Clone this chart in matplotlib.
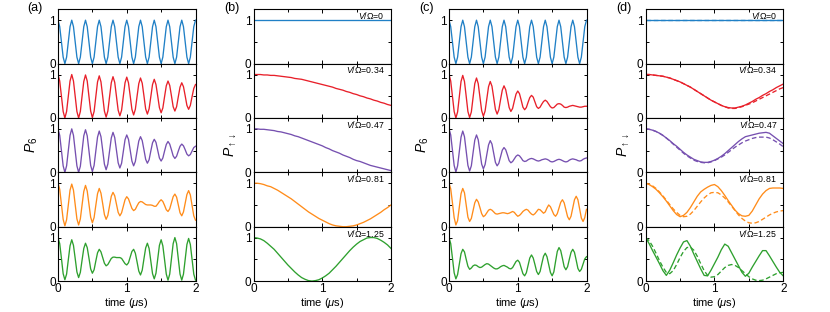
import numpy as np
import matplotlib
matplotlib.use("Agg")
import matplotlib.pyplot as plt
from matplotlib.ticker import MultipleLocator

plt.rcParams['font.family'] = ['Liberation Sans', 'DejaVu Sans']
plt.rcParams['mathtext.fontset'] = 'custom'
plt.rcParams['mathtext.rm'] = 'Liberation Sans'
plt.rcParams['mathtext.it'] = 'Liberation Sans:italic'
plt.rcParams['mathtext.sf'] = 'Liberation Sans'

# ---------------- data ----------------
time_fine = np.linspace(0, 2, 81)   # 0.025 us sampling (panels a, c)
time_mid = np.linspace(0, 2, 41)    # 0.05 us sampling (panels b, d)
time_ends = [0.0, 2.0]

ratio_labels = ['0', '0.34', '0.47', '0.81', '1.25']
panel_letters = ['(a)', '(b)', '(c)', '(d)']

blue_osc = [1.00, .85, .50, .15, .00, .15, .50, .85,
            1.00, .85, .50, .15, .00, .15, .50, .85,
            1.00, .85, .50, .15, .00, .15, .50, .85,
            1.00, .85, .50, .15, .00, .15, .50, .85,
            1.00, .85, .50, .15, .00, .15, .50, .85,
            1.00, .85, .50, .15, .00, .15, .50, .85,
            1.00, .85, .50, .15, .00, .15, .50, .85,
            1.00, .85, .50, .15, .00, .15, .50, .85,
            1.00, .85, .50, .15, .00, .15, .50, .85,
            1.00, .85, .50, .15, .00, .15, .50, .85,
            1.00]
blue_flat = [1.00, 1.00]

# panel (a)
red_a = [1.00,
         .85, .50, .15, .00, .15, .50, .85, 1.00,
         .85, .50, .15, .00, .15, .50, .84, .99,
         .85, .50, .16, .01, .15, .49, .83, .97,
         .83, .50, .16, .02, .16, .49, .81, .95,
         .82, .50, .18, .05, .18, .50, .81, .94,
         .81, .51, .20, .07, .20, .50, .79, .92,
         .80, .51, .21, .09, .21, .49, .77, .89,
         .77, .51, .24, .12, .23, .49, .74, .85,
         .75, .51, .26, .16, .26, .49, .71, .81,
         .72, .51, .29, .20, .29, .49, .68, .77]
purple_a = [1.00,
            .85, .50, .15, .00, .15, .50, .85, 1.00,
            .85, .50, .15, .00, .14, .49, .84, .98,
            .84, .50, .16, .02, .16, .49, .81, .95,
            .82, .51, .19, .06, .19, .49, .79, .92,
            .80, .51, .22, .10, .21, .48, .75, .86,
            .76, .51, .26, .15, .25, .49, .72, .82,
            .73, .52, .30, .21, .29, .49, .68, .76,
            .69, .51, .33, .26, .33, .49, .64, .71,
            .65, .52, .38, .32, .37, .49, .60, .65,
            .61, .52, .42, .38, .41, .49, .57, .60]
orange_a = [1.00,
            .86, .51, .17, .02, .16, .50, .84, .98,
            .84, .51, .18, .04, .18, .50, .81, .95,
            .82, .52, .22, .09, .21, .49, .76, .88,
            .77, .53, .28, .17, .26, .48, .70, .79,
            .71, .52, .33, .25, .32, .47, .62, .69,
            .64, .53, .42, .37, .40, .48, .55, .58,
            .57, .54, .51, .50, .50, .50, .49, .47,
            .47, .52, .58, .62, .58, .49, .39, .35,
            .41, .55, .69, .75, .68, .50, .32, .25,
            .34, .54, .74, .83, .73, .49, .25, .15]
green_a = [1.00,
           .86, .52, .17, .03, .16, .49, .81, .95,
           .82, .52, .21, .08, .20, .48, .75, .87,
           .77, .53, .28, .18, .26, .46, .65, .73,
           .67, .54, .41, .35, .38, .45, .52, .55,
           .55, .54, .54, .54, .52, .46, .40, .37,
           .42, .55, .68, .73, .64, .44, .23, .14,
           .25, .51, .76, .87, .75, .46, .17, .05,
           .18, .50, .82, .95, .81, .49, .16, .02,
           .16, .51, .86, 1.00, .86, .51, .16, .02,
           .16, .50, .84, .98, .84, .50, .16, .02]

# panel (c)
red_c = [1.00,
         .85, .50, .15, .00, .14, .49, .84, .98,
         .84, .50, .15, .01, .14, .47, .79, .92,
         .79, .48, .17, .04, .16, .44, .72, .84,
         .73, .47, .20, .09, .19, .42, .64, .74,
         .65, .45, .24, .15, .22, .39, .55, .62,
         .56, .41, .25, .19, .24, .36, .47, .52,
         .48, .37, .26, .22, .25, .32, .38, .41,
         .38, .32, .26, .23, .24, .28, .32, .33,
         .32, .29, .25, .24, .25, .27, .28, .29,
         .28, .27, .26, .25, .25, .26, .27, .27]
purple_c = [1.00,
            .86, .51, .16, .01, .15, .48, .81, .95,
            .82, .49, .16, .03, .15, .45, .74, .86,
            .75, .47, .19, .08, .18, .41, .63, .73,
            .65, .44, .23, .15, .21, .36, .51, .57,
            .52, .40, .27, .22, .25, .31, .37, .40,
            .38, .33, .27, .25, .26, .29, .31, .32,
            .31, .29, .27, .26, .27, .29, .30, .31,
            .30, .28, .25, .24, .25, .27, .29, .30,
            .29, .27, .25, .24, .25, .28, .30, .31,
            .30, .29, .27, .26, .27, .30, .32, .33]
orange_c = [1.00,
            .87, .55, .21, .04, .14, .45, .76, .88,
            .78, .50, .22, .12, .19, .37, .55, .63,
            .57, .44, .30, .23, .26, .32, .38, .40,
            .38, .34, .30, .29, .30, .31, .32, .32,
            .31, .30, .31, .33, .35, .33, .28, .24,
            .26, .30, .35, .38, .40, .38, .33, .29,
            .27, .30, .35, .40, .39, .35, .31, .34,
            .43, .50, .46, .37, .28, .24, .30, .43,
            .56, .62, .55, .39, .23, .16, .24, .43,
            .62, .70, .62, .41, .20, .12, .21, .40]
green_c = [1.00,
           .86, .53, .19, .05, .15, .39, .63, .73,
           .67, .50, .34, .27, .30, .35, .37, .36,
           .33, .31, .32, .35, .38, .40, .39, .36,
           .33, .30, .28, .28, .30, .33, .35, .36,
           .34, .32, .29, .28, .31, .38, .45, .48,
           .43, .30, .17, .12, .19, .36, .53, .60,
           .53, .38, .22, .15, .22, .40, .57, .64,
           .56, .38, .20, .12, .21, .45, .68, .77,
           .70, .52, .33, .26, .33, .50, .66, .73,
           .66, .48, .29, .22, .27, .39, .51, .56]

# panel (b)
red_b = [1.00, 1.00, 1.00, .99, .99, .98, .98, .97, .96, .95, .94,
         .93, .91, .90, .89, .87, .85, .83, .81, .79, .77,
         .75, .73, .71, .68, .66, .64, .61, .59, .56, .54,
         .51, .49, .46, .44, .41, .39, .36, .34, .31, .29]
purple_b = [1.00, 1.00, .99, .99, .98, .97, .96, .94, .93, .91, .89,
            .87, .84, .82, .79, .76, .73, .70, .67, .64, .61,
            .57, .54, .50, .47, .44, .40, .37, .34, .30, .27,
            .25, .22, .19, .16, .14, .12, .10, .08, .06, .04]
orange_b = [1.00, 1.00, .99, .97, .94, .92, .88, .84, .79, .74, .69,
            .64, .58, .52, .46, .40, .34, .29, .24, .19, .15,
            .11, .07, .04, .02, .01, .00, .00, .01, .02, .04,
            .07, .10, .14, .18, .23, .28, .33, .39, .44, .50]
green_b = [1.00, .99, .97, .93, .87, .80, .73, .64, .55, .46, .37,
           .29, .21, .14, .08, .04, .01, .00, .01, .03, .07,
           .12, .18, .26, .34, .43, .52, .61, .70, .78, .85,
           .91, .95, .99, 1.00, 1.00, .98, .94, .89, .83, .75]

# panel (d): solid and dashed
red_d = [1.00, 1.00, .99, .98, .97, .96, .94, .92, .89, .86, .83,
         .79, .75, .71, .66, .61, .56, .51, .46, .41, .37,
         .33, .29, .26, .24, .23, .23, .25, .27, .30, .34,
         .38, .43, .47, .52, .56, .61, .65, .70, .74, .78]
red_d_dash = [1.00, 1.00, .99, .98, .97, .96, .94, .92, .89, .86, .83,
              .79, .75, .71, .66, .61, .56, .51, .46, .41, .37,
              .33, .29, .26, .23, .22, .22, .24, .26, .29, .32,
              .35, .39, .43, .47, .51, .55, .59, .63, .67, .70]
purple_d = [1.00, .99, .97, .94, .90, .85, .79, .73, .66, .60, .53,
            .46, .40, .35, .30, .27, .24, .23, .23, .25, .28,
            .32, .37, .43, .50, .57, .64, .71, .77, .82, .84,
            .86, .88, .90, .91, .92, .90, .84, .78, .72, .66]
purple_d_dash = [1.00, .99, .97, .94, .90, .85, .79, .72, .65, .58, .51,
                 .44, .38, .33, .28, .25, .23, .22, .22, .24, .27,
                 .31, .35, .40, .46, .52, .58, .63, .68, .72, .75,
                 .78, .80, .81, .81, .81, .79, .75, .70, .65, .59]
orange_d = [1.00, .97, .92, .86, .78, .69, .59, .48, .37, .28, .23,
            .26, .33, .44, .57, .70, .80, .86, .91, .95, .97,
            .92, .83, .72, .60, .49, .38, .30, .25, .24, .26,
            .36, .50, .64, .75, .83, .88, .89, .89, .89, .88]
orange_d_dash = [1.00, .98, .94, .88, .80, .71, .61, .51, .41, .33, .26,
                 .23, .24, .29, .37, .47, .57, .66, .73, .78, .79,
                 .78, .73, .66, .57, .47, .37, .27, .19, .13, .09,
                 .08, .09, .12, .17, .22, .27, .31, .34, .36, .37]
green_d = [1.00, .86, .70, .55, .40, .24, .13, .25, .42, .60, .76,
           .90, .93, .80, .62, .45, .28, .13, .12, .25, .40,
           .55, .72, .85, .80, .65, .50, .35, .20, .11, .18,
           .32, .45, .58, .70, .70, .58, .45, .32, .20, .12]
green_d_dash = [1.00, .93, .80, .64, .47, .32, .20, .17, .24, .38, .54,
                .68, .77, .78, .71, .57, .40, .24, .13, .09, .10,
                .15, .23, .31, .36, .38, .36, .31, .24, .17, .10,
                .05, .02, .01, .02, .05, .09, .13, .17, .19, .20]

colors = ['#2080c6', '#e8202a', '#7650b0', '#ff8c1a', '#2ea02e']

# ---------------- layout ----------------
W, H = 830, 312
fig = plt.figure(figsize=(W / 100, H / 100), dpi=100)

lefts_px = [58, 253.5, 449, 645.7]
width_px = 137.5
top_px = 9.3
row_h = 54.35

panels = [
    dict(t=[time_fine] * 5, solid=[blue_osc, red_a, purple_a, orange_a, green_a],
         dashed=None, ylabel=r'$P_6$', ratio=False),
    dict(t=[time_ends] + [time_mid] * 4, solid=[blue_flat, red_b, purple_b, orange_b, green_b],
         dashed=None, ylabel=r'$P_{\uparrow\downarrow}$', ratio=True),
    dict(t=[time_fine] * 5, solid=[blue_osc, red_c, purple_c, orange_c, green_c],
         dashed=None, ylabel=r'$P_6$', ratio=False),
    dict(t=[time_ends] + [time_mid] * 4, solid=[blue_flat, red_d, purple_d, orange_d, green_d],
         dashed=[blue_flat, red_d_dash, purple_d_dash, orange_d_dash, green_d_dash],
         ylabel=r'$P_{\uparrow\downarrow}$', ratio=True),
]

for p, (left, panel) in enumerate(zip(lefts_px, panels)):
    for r in range(5):
        bottom_px = top_px + (r + 1) * row_h
        ax = fig.add_axes([left / W, 1 - bottom_px / H, width_px / W, row_h / H])
        ax.plot(panel['t'][r], panel['solid'][r], color=colors[r], lw=0.95)
        if panel['dashed'] is not None:
            ax.plot(panel['t'][r], panel['dashed'][r], color=colors[r], lw=0.95,
                    linestyle=(0, (3.5, 2)))
        ax.set_xlim(0, 2)
        ax.set_ylim(0, 1.25)
        ax.set_xticks([0, 1, 2])
        ax.xaxis.set_minor_locator(MultipleLocator(0.5))
        ax.set_yticks([0, 0.5, 1])
        ax.set_yticklabels(['0', '', '1'])
        ax.tick_params(which='both', direction='in', top=True, right=True,
                       labelsize=8.5, pad=1.5, width=0.7)
        ax.tick_params(which='major', length=3.2)
        ax.tick_params(which='minor', length=2.0)
        ax.tick_params(axis='y', which='major', length=2.4)
        for s in ax.spines.values():
            s.set_linewidth(0.8)
        if r < 4:
            ax.tick_params(labelbottom=False)
        else:
            ax.set_xlabel(r'time ($\mu$s)', fontsize=8, labelpad=0.5)
        if r == 2:
            ax.set_ylabel(panel['ylabel'], fontsize=10)
            ax.yaxis.set_label_coords(-0.13 if not panel['ratio'] else -0.11, 0.5)
        if panel['ratio']:
            ax.text(0.955, 0.985, '$V$/Ω=' + ratio_labels[r], transform=ax.transAxes,
                    ha='right', va='top', fontsize=6.3)

letter_x_px = [27, 224, 419, 616]
for lx, letter in zip(letter_x_px, panel_letters):
    fig.text(lx / W, 1 - 2 / H, letter, ha='left', va='top', fontsize=9)

fig.savefig('out.png', dpi=100)
